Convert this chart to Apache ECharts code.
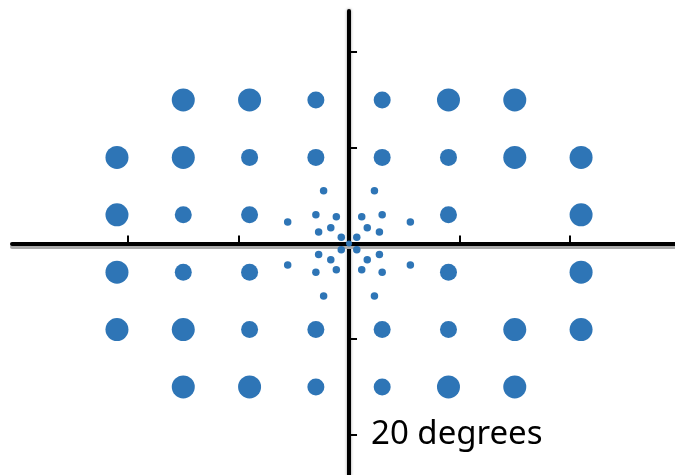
<!DOCTYPE html>
<html>
<head>
<meta charset="utf-8">
<script src="https://cdn.jsdelivr.net/npm/echarts@6/dist/echarts.min.js"></script>
<style>
  html, body { margin: 0; padding: 0; background: #fff; }
  #chart { width: 675px; height: 475px; }
</style>
</head>
<body>
<div id="chart"></div>
<script>
// test points in degrees [x, y]
var largePts = [
  [-15, 15], [-9, 15], [9, 15], [15, 15],
  [-21, 9], [-15, 9], [15, 9], [21, 9],
  [-21, 3], [21, 3],
  [-21, -3], [21, -3],
  [-21, -9], [-15, -9], [15, -9], [21, -9],
  [-15, -15], [-9, -15], [9, -15], [15, -15]
];
var mediumPts = [
  [-3, 15], [3, 15],
  [-9, 9], [-3, 9], [3, 9], [9, 9],
  [-15, 3], [-9, 3], [9, 3],
  [-15, -3], [-9, -3], [9, -3],
  [-9, -9], [-3, -9], [3, -9], [9, -9],
  [-3, -15], [3, -15]
];
var smallPts = [
  [-2.3, 5.5], [2.3, 5.5], [-3, 3], [3, 3], [-1.15, 2.8], [1.15, 2.8],
  [-5.55, 2.25], [5.55, 2.25], [-1.65, 1.65], [1.65, 1.65],
  [-2.75, 1.2], [2.75, 1.2], [-0.7, 0.65], [0.7, 0.65],
  [-0.7, -0.65], [0.7, -0.65], [-2.75, -1.15], [2.75, -1.15],
  [-1.65, -1.7], [1.65, -1.7], [-5.55, -2.25], [5.55, -2.25],
  [-3, -3], [3, -3], [-1.15, -2.75], [1.15, -2.75],
  [-2.3, -5.5], [2.3, -5.5]
];
var centerPts = [[0, 0]];
var xTicks = [-20, -10, 10, 20];
var yTicks = [-20, -10, 10, 20];
var scaleLabel = '20 degrees';

var chart = echarts.init(document.getElementById('chart'));
var dotColor = '#2e75b6';

chart.setOption({
  animation: false,
  grid: { left: 12, right: 0, top: 11, bottom: 0, containLabel: false, outerBoundsMode: 'none' },
  xAxis: {
    type: 'value',
    min: -30.5,
    max: 29.5,
    splitLine: { show: false },
    axisLine: {
      onZero: true,
      lineStyle: { color: '#000', width: 4, shadowColor: '#aaa', shadowOffsetY: 3 }
    },
    axisTick: {
      inside: true, length: 8, customValues: xTicks,
      lineStyle: { color: '#000', width: 2 }
    },
    axisLabel: { show: false }
  },
  yAxis: {
    type: 'value',
    min: -24.2,
    max: 24.3,
    splitLine: { show: false },
    axisLine: {
      onZero: true,
      lineStyle: { color: '#000', width: 4, shadowColor: '#999', shadowBlur: 3 }
    },
    axisTick: {
      inside: true, length: 8, customValues: yTicks,
      lineStyle: { color: '#000', width: 2 }
    },
    axisLabel: { show: false }
  },
  graphic: [{
    type: 'text',
    x: 371,
    y: 435,
    z: 10,
    style: {
      text: scaleLabel,
      fill: '#000',
      font: '33px "Noto Sans"',
      verticalAlign: 'middle'
    }
  }],
  series: [
    { type: 'scatter', data: largePts, symbolSize: 23, itemStyle: { color: dotColor, opacity: 1 } },
    { type: 'scatter', data: mediumPts, symbolSize: 17, itemStyle: { color: dotColor, opacity: 1 } },
    { type: 'scatter', data: smallPts, symbolSize: 7.5, itemStyle: { color: dotColor, opacity: 1 } },
    { type: 'scatter', data: centerPts, symbolSize: 6, itemStyle: { color: dotColor, opacity: 1 } }
  ]
});
</script>
</body>
</html>
